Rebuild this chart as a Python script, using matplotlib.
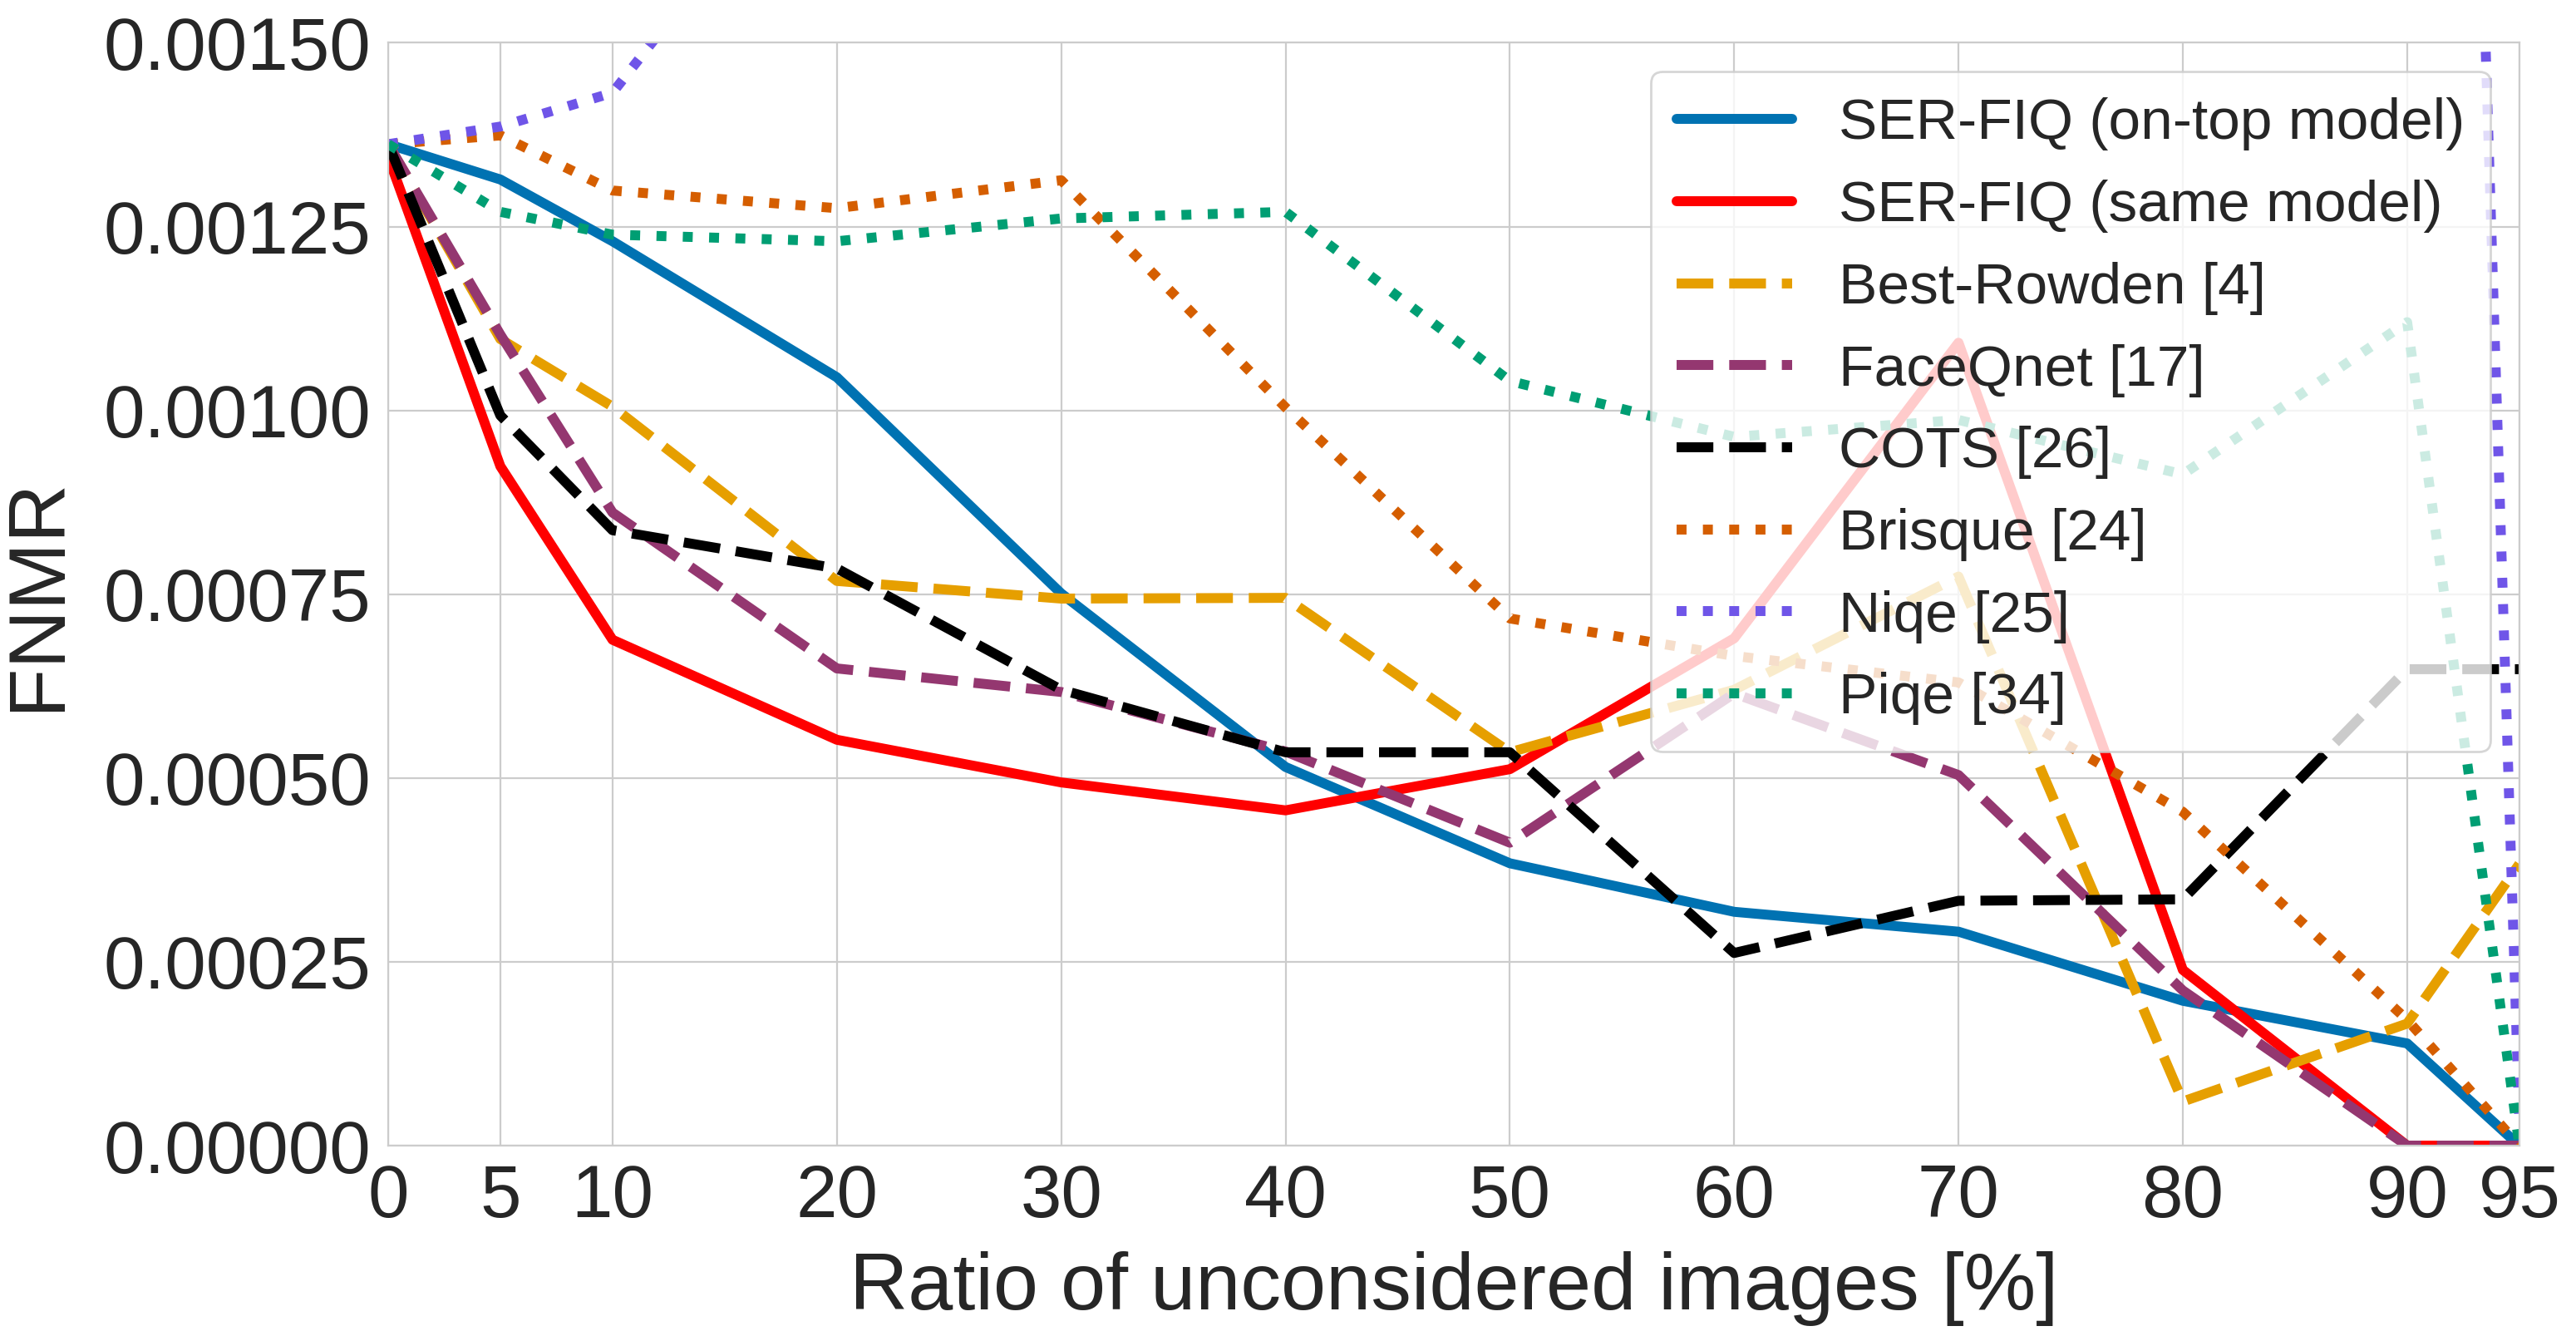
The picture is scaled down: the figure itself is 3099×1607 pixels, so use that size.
import matplotlib

matplotlib.use("Agg")
import matplotlib.pyplot as plt
import seaborn as sns
from matplotlib.ticker import FormatStrFormatter

ratios = [0, 5, 10, 20, 30, 40, 50, 60, 70, 80, 90, 95]

serfiq_ontop = [0.001362, 0.001314, 0.001230, 0.001045, 0.000751, 0.000515, 0.000384, 0.000318, 0.000291, 0.000197, 0.000139, 0.0]
serfiq_same = [0.001345, 0.000924, 0.000688, 0.000552, 0.000494, 0.000456, 0.000512, 0.000690, 0.001092, 0.000239, 0.0, 0.0]
best_rowden = [0.001362, 0.001097, 0.001005, 0.000768, 0.000744, 0.000745, 0.000535, 0.000620, 0.000774, 0.000060, 0.000166, 0.000383]
faceqnet = [0.001362, 0.001103, 0.000861, 0.000649, 0.000617, 0.000536, 0.000412, 0.000615, 0.000504, 0.000211, 0.0, 0.0]
cots = [0.001362, 0.000993, 0.000837, 0.000785, 0.000620, 0.000535, 0.000535, 0.000262, 0.000333, 0.000335, 0.000648, 0.000648]
brisque = [0.001362, 0.001374, 0.001299, 0.001275, 0.001313, 0.001004, 0.000717, 0.000666, 0.000630, 0.000454, 0.000171, 0.0]
niqe = [0.001362, 0.001386, 0.001432, 0.001820, 0.002100, 0.002300, 0.002500, 0.002700, 0.003000, 0.003500, 0.004900, 0.000030]
piqe = [0.001362, 0.001270, 0.001239, 0.001230, 0.001261, 0.001270, 0.001040, 0.000964, 0.000987, 0.000913, 0.001120, 0.0]

series = [
    ("SER-FIQ (on-top model)", serfiq_ontop, "#0072B2", "-"),
    ("SER-FIQ (same model)", serfiq_same, "#FF0000", "-"),
    ("Best-Rowden [4]", best_rowden, "#E69F00", "--"),
    ("FaceQnet [17]", faceqnet, "#943770", "--"),
    ("COTS [26]", cots, "#000000", "--"),
    ("Brisque [24]", brisque, "#D55E00", ":"),
    ("Niqe [25]", niqe, "#6F55E8", ":"),
    ("Piqe [34]", piqe, "#009E73", ":"),
]

sns.set_style("whitegrid")
plt.rcParams["font.family"] = ["Liberation Sans", "DejaVu Sans"]

figure = plt.figure(figsize=(15.495, 8.035), dpi=200)
axis = figure.add_axes([0.1507, 0.1425, 0.8273, 0.8255])
for label, values, color, style in series:
    axis.plot(ratios, values, color=color, linestyle=style, linewidth=4.3, label=label)

axis.set_xlim(0, 95)
axis.set_ylim(0, 0.0015)
axis.set_xticks(ratios)
axis.set_yticks([0, 0.00025, 0.0005, 0.00075, 0.001, 0.00125, 0.0015])
axis.yaxis.set_major_formatter(FormatStrFormatter("%.5f"))
axis.tick_params(axis="both", labelsize=32, colors="#262626", pad=4)
axis.set_xlabel("Ratio of unconsidered images [%]", fontsize=35, color="#262626", labelpad=8)
axis.set_ylabel("FNMR", fontsize=35, color="#262626", labelpad=12)
axis.legend(loc="upper right", fontsize=25, framealpha=0.8, handlelength=2.0,
            labelspacing=0.5, borderpad=0.45)
figure.savefig("out.png", dpi=200)
plt.close(figure)
